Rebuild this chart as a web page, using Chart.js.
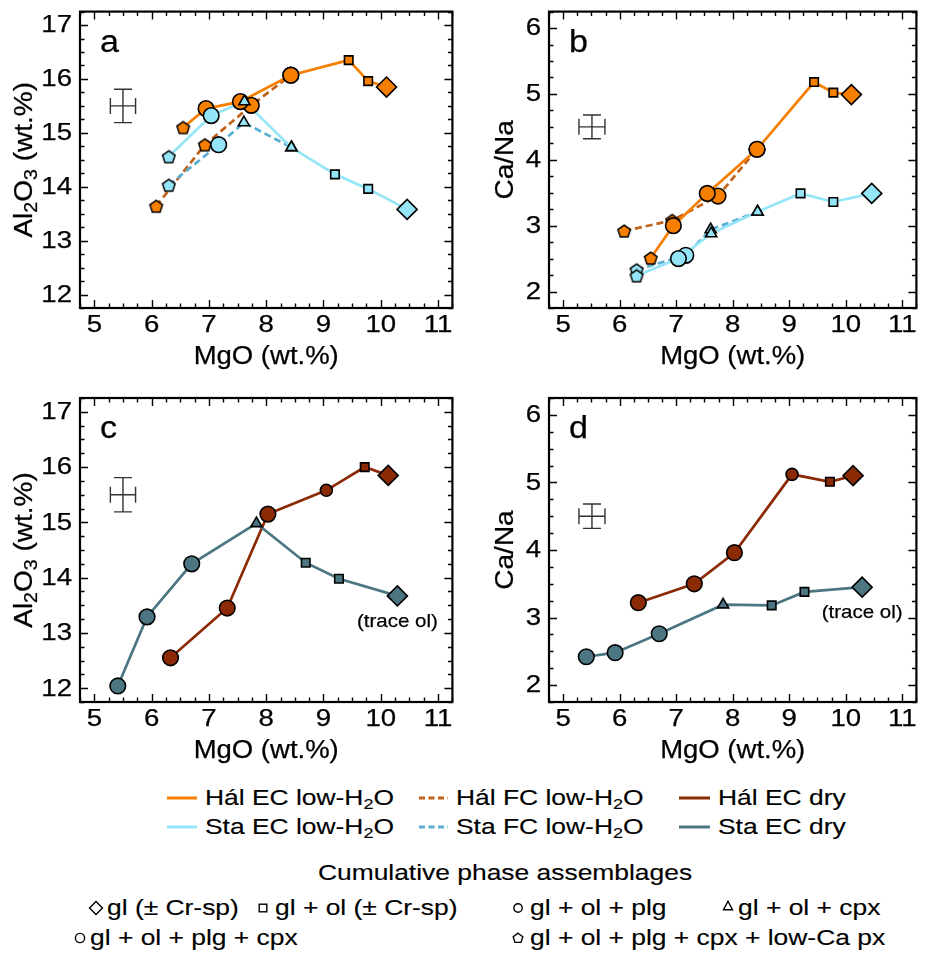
<!DOCTYPE html>
<html>
<head>
<meta charset="utf-8">
<script src="https://cdn.jsdelivr.net/npm/chart.js@4.4.1/dist/chart.umd.min.js"></script>
<style>
  html, body { margin: 0; padding: 0; background: #fff; }
  body { width: 928px; height: 953px; position: relative; overflow: hidden;
         font-family: "Liberation Sans", Arial, Helvetica, sans-serif; color: #000; }
  canvas.panel { position: absolute; }
  .lg { position: absolute; font-size: 22px; line-height: 20px; white-space: nowrap;
        transform-origin: 0 50%; transform: scaleX(1.2); -webkit-text-stroke: 0.15px #000; }
  .lg sub { font-size: 15px; vertical-align: -4px; line-height: 0; }
  .lg.centre { transform-origin: 50% 50%; transform: translateX(-50%) scaleX(1.2); }
  svg.sym { position: absolute; overflow: visible; }
</style>
</head>
<body>
<canvas id="pa" class="panel" width="464" height="375" style="left:0;top:0;width:464px;height:375px"></canvas>
<canvas id="pb" class="panel" width="464" height="375" style="left:464px;top:0;width:464px;height:375px"></canvas>
<canvas id="pc" class="panel" width="464" height="390" style="left:0;top:385px;width:464px;height:390px"></canvas>
<canvas id="pd" class="panel" width="464" height="390" style="left:464px;top:385px;width:464px;height:390px"></canvas>
<div id="legend"></div>

<script>
// ---------------- data ----------------
// axis ticks
const mgoTicks   = [5, 6, 7, 8, 9, 10, 11];
const alTicks    = [12, 13, 14, 15, 16, 17];
const caNaTicks  = [2, 3, 4, 5, 6];

// Hál, equilibrium crystallisation, low-H2O
const halEcLowMgO   = [6.55, 6.95, 7.55, 8.43, 9.44, 9.78, 10.10];
const halEcLowAl    = [15.10, 15.45, 15.58, 16.07, 16.35, 15.96, 15.85];
const halEcLowCaNa  = [2.51, 3.00, 3.49, 4.16, 5.18, 5.02, 4.99];
const halEcLowPhase = ['lowca', 'plgcpx', 'plgcpx', 'plgcpx', 'ol', 'ol', 'gl'];

// Hál, fractional crystallisation, low-H2O
const halFcLowMgO   = [6.08, 6.93, 7.74, 8.43];
const halFcLowAl    = [13.64, 14.78, 15.51, 16.07];
const halFcLowCaNa  = [2.92, 3.08, 3.45, 4.16];
const halFcLowPhase = ['lowca', 'lowca', 'plgcpx', 'plgcpx'];

// Sta, equilibrium crystallisation, low-H2O
const staEcLowMgO   = [6.30, 7.04, 7.62, 8.44, 9.20, 9.78, 10.46];
const staEcLowAl    = [14.56, 15.32, 15.58, 14.73, 14.23, 13.96, 13.58];
const staEcLowCaNa  = [2.24, 2.50, 2.88, 3.21, 3.49, 3.36, 3.49];
const staEcLowPhase = ['lowca', 'plgcpx', 'cpx', 'cpx', 'ol', 'ol', 'gl'];

// Sta, fractional crystallisation, low-H2O
const staFcLowMgO   = [6.30, 7.17, 7.61, 8.44];
const staFcLowAl    = [14.03, 14.78, 15.19, 14.73];
const staFcLowCaNa  = [2.33, 2.55, 2.94, 3.21];
const staFcLowPhase = ['lowca', 'plgcpx', 'cpx', 'cpx'];

// Hál, equilibrium crystallisation, dry
const halEcDryMgO   = [6.33, 7.32, 8.03, 9.05, 9.72, 10.13];
const halEcDryAl    = [12.55, 13.45, 15.15, 15.58, 16.00, 15.85];
const halEcDryCaNa  = [3.22, 3.50, 3.96, 5.12, 5.01, 5.10];
const halEcDryPhase = ['plgcpx', 'plgcpx', 'plgcpx', 'plg', 'ol', 'gl'];

// Sta, equilibrium crystallisation, dry
const staEcDryMgO   = [5.41, 5.92, 6.70, 7.83, 8.69, 9.27, 10.29];
const staEcDryAl    = [12.04, 13.29, 14.25, 14.98, 14.27, 13.98, 13.67];
const staEcDryCaNa  = [2.42, 2.48, 2.76, 3.19, 3.18, 3.38, 3.45];
const staEcDryPhase = ['plgcpx', 'plgcpx', 'plgcpx', 'cpx', 'ol', 'ol', 'gl'];

// analytical uncertainty (centre x, centre y, half-width x, half-width y)
const errAlCross   = [5.50, 15.50, 0.22, 0.31];
const errCaNaCross = [5.51, 4.50, 0.23, 0.18];

// ---------------- styling ----------------
const FONT = '"Liberation Sans", Arial, Helvetica, sans-serif';
const C = {
  halLow: '#f77f00', halFcLine: '#c0621b', halDry: '#8b2a05',
  staLow: '#95e5f8', staFcLine: '#5aaed2', staDry: '#4b7682'
};
const MARK = {
  gl:     { style: 'rectRot',  r: 10 },
  ol:     { style: 'rect',     r: 6.0 },
  plg:    { style: 'circle',   r: 6.0 },
  cpx:    { style: 'triangle', r: 6.4 },
  plgcpx: { style: 'circle',   r: 7.8 },
  lowca:  { style: 'pentagon', r: 6.6 }
};

const pentCache = {};
function pentagon(fill, r) {
  const key = fill + r;
  if (pentCache[key]) return pentCache[key];
  const s = Math.ceil(2 * r + 4);
  const c = document.createElement('canvas');
  c.width = s; c.height = s;
  const g = c.getContext('2d');
  g.beginPath();
  for (let i = 0; i < 5; i++) {
    const a = -Math.PI / 2 + i * 2 * Math.PI / 5;
    const px = s / 2 + r * Math.cos(a), py = s / 2 + 0.7 + r * Math.sin(a);
    if (i) g.lineTo(px, py); else g.moveTo(px, py);
  }
  g.closePath();
  g.fillStyle = fill; g.fill();
  g.lineWidth = 1.5; g.strokeStyle = '#000'; g.stroke();
  pentCache[key] = c;
  return c;
}

function pts(xs, ys) { return xs.map((x, i) => ({ x: x, y: ys[i] })); }

// one series = a line dataset underneath plus a marker dataset on top
function series(xs, ys, phases, fill, lineColor, dashed, order) {
  const data = pts(xs, ys);
  return [
    { data: data, showLine: true, borderColor: lineColor, borderWidth: 2.7,
      borderDash: dashed ? [7, 4] : [], pointRadius: 0, order: 100 + order, tension: 0 },
    { data: data, showLine: false, order: order,
      backgroundColor: fill, borderColor: '#000',
      pointBorderWidth: 1.6,
      pointRadius: ctx => MARK[phases[ctx.dataIndex]].r,
      pointStyle: ctx => {
        const m = MARK[phases[ctx.dataIndex]];
        return m.style === 'pentagon' ? pentagon(fill, m.r) : m.style;
      } }
  ];
}

function stretchText(ctx, text, x, y, size, align, base, sx) {
  ctx.save();
  ctx.font = size + 'px ' + FONT;
  ctx.fillStyle = '#000'; ctx.strokeStyle = '#000'; ctx.lineWidth = 0.25;
  ctx.textAlign = align; ctx.textBaseline = base;
  ctx.translate(x, y); ctx.scale(sx, 1);
  ctx.fillText(text, 0, 0);
  ctx.strokeText(text, 0, 0);
  ctx.restore();
}

// frame, inward ticks, labels, uncertainty cross and panel text
const decoPlugin = {
  id: 'deco',
  afterDatasetsDraw(chart, args, o) {
    const ctx = chart.ctx, a = chart.chartArea;
    const xs = chart.scales.x, ys = chart.scales.y;
    ctx.save();
    // uncertainty cross
    const e = o.err;
    const cx = xs.getPixelForValue(e[0]), cy = ys.getPixelForValue(e[1]);
    const x0 = xs.getPixelForValue(e[0] - e[2]), x1 = xs.getPixelForValue(e[0] + e[2]);
    const y0 = ys.getPixelForValue(e[1] + e[3]), y1 = ys.getPixelForValue(e[1] - e[3]);
    ctx.strokeStyle = '#333'; ctx.lineWidth = 1.4;
    ctx.beginPath();
    ctx.moveTo(x0, cy); ctx.lineTo(x1, cy);
    ctx.moveTo(cx, y0); ctx.lineTo(cx, y1);
    ctx.moveTo(x0, cy - 8); ctx.lineTo(x0, cy + 8);
    ctx.moveTo(x1, cy - 8); ctx.lineTo(x1, cy + 8);
    ctx.moveTo(cx - 9, y0); ctx.lineTo(cx + 9, y0);
    ctx.moveTo(cx - 9, y1); ctx.lineTo(cx + 9, y1);
    ctx.stroke();

    // frame
    ctx.strokeStyle = '#000'; ctx.lineWidth = 2.2;
    ctx.strokeRect(a.left, a.top, a.right - a.left, a.bottom - a.top);

    // inward ticks (majors from the scale, quarter-unit minors)
    ctx.lineWidth = 1.4;
    ctx.beginPath();
    const minor = 0.25;
    for (let v = Math.ceil(xs.min / minor) * minor; v <= xs.max + 1e-9; v += minor) {
      const major = Math.abs(v - Math.round(v)) < 1e-6;
      const L = major ? 8 : 4.5, px = Math.round(xs.getPixelForValue(v)) + 0.5;
      ctx.moveTo(px, a.bottom); ctx.lineTo(px, a.bottom - L);
      ctx.moveTo(px, a.top); ctx.lineTo(px, a.top + L);
    }
    for (let v = Math.ceil(ys.min / minor) * minor; v <= ys.max + 1e-9; v += minor) {
      const major = Math.abs(v - Math.round(v)) < 1e-6;
      const L = major ? 8 : 4.5, py = Math.round(ys.getPixelForValue(v)) + 0.5;
      ctx.moveTo(a.left, py); ctx.lineTo(a.left + L, py);
      ctx.moveTo(a.right, py); ctx.lineTo(a.right - L, py);
    }
    ctx.stroke();

    // tick labels
    xs.ticks.forEach(t => stretchText(ctx, String(t.value), xs.getPixelForValue(t.value),
      a.bottom + 18, 23, 'center', 'middle', 1.2));
    ys.ticks.forEach(t => stretchText(ctx, String(t.value), a.left - 8,
      ys.getPixelForValue(t.value) + 1, 23, 'right', 'middle', 1.2));

    // x title
    stretchText(ctx, 'MgO (wt.%)', (a.left + a.right) / 2, a.bottom + 49, 25, 'center', 'middle', 1.1);

    // y title (rotated, with subscripts)
    ctx.save();
    ctx.translate(o.yTitleX, (a.top + a.bottom) / 2);
    ctx.rotate(-Math.PI / 2);
    ctx.scale(1.12, 1);
    ctx.fillStyle = '#000'; ctx.strokeStyle = '#000'; ctx.lineWidth = 0.25;
    ctx.textBaseline = 'middle';
    const size = 25;
    let w = 0;
    o.yTitle.forEach(p => {
      ctx.font = (p.sub ? size * 0.7 : size) + 'px ' + FONT;
      w += ctx.measureText(p.t).width;
    });
    let x = -w / 2;
    ctx.textAlign = 'left';
    o.yTitle.forEach(p => {
      ctx.font = (p.sub ? size * 0.7 : size) + 'px ' + FONT;
      ctx.fillText(p.t, x, p.sub ? size * 0.3 : 0);
      ctx.strokeText(p.t, x, p.sub ? size * 0.3 : 0);
      x += ctx.measureText(p.t).width;
    });
    ctx.restore();

    // panel letter
    stretchText(ctx, o.letter, a.left + 20, a.top + 40, 31, 'left', 'alphabetic', 1.1);

    // note under the last dry-run point
    if (o.note) {
      const nx = xs.getPixelForValue(o.note.x), ny = ys.getPixelForValue(o.note.y) + 26;
      stretchText(ctx, o.note.text, nx, ny, 19, 'center', 'middle', 1.08);
    }
    ctx.restore();
  }
};

function makePanel(id, cfg) {
  return new Chart(document.getElementById(id), {
    type: 'scatter',
    data: { datasets: cfg.datasets },
    plugins: [decoPlugin],
    options: {
      responsive: false, animation: false, events: [],
      layout: { padding: cfg.pad },
      plugins: { legend: { display: false }, tooltip: { enabled: false }, deco: cfg.deco },
      scales: {
        x: { type: 'linear', min: 4.75, max: 11.25,
             afterBuildTicks: s => { s.ticks = mgoTicks.map(v => ({ value: v })); },
             afterFit: s => { s.height = cfg.xh; },
             ticks: { display: false }, grid: { display: false }, border: { display: false } },
        y: { type: 'linear', min: cfg.ymin, max: cfg.ymax,
             afterBuildTicks: s => { s.ticks = cfg.yTicks.map(v => ({ value: v })); },
             afterFit: s => { s.width = cfg.yw; },
             ticks: { display: false }, grid: { display: false }, border: { display: false } }
      }
    }
  });
}

const alTitle   = [{ t: 'Al' }, { t: '2', sub: true }, { t: 'O' }, { t: '3', sub: true }, { t: ' (wt.%)' }];
const caNaTitle = [{ t: 'Ca/Na' }];

// low-H2O runs
function lowSets(key) {
  const al = key === 'al';
  return [].concat(
    series(halFcLowMgO, al ? halFcLowAl : halFcLowCaNa, halFcLowPhase, C.halLow, C.halFcLine, true, 4),
    series(halEcLowMgO, al ? halEcLowAl : halEcLowCaNa, halEcLowPhase, C.halLow, C.halLow, false, 3),
    series(staFcLowMgO, al ? staFcLowAl : staFcLowCaNa, staFcLowPhase, C.staLow, C.staFcLine, true, 2),
    series(staEcLowMgO, al ? staEcLowAl : staEcLowCaNa, staEcLowPhase, C.staLow, C.staLow, false, 1)
  );
}
function drySets(key) {
  const al = key === 'al';
  return [].concat(
    series(halEcDryMgO, al ? halEcDryAl : halEcDryCaNa, halEcDryPhase, C.halDry, C.halDry, false, 2),
    series(staEcDryMgO, al ? staEcDryAl : staEcDryCaNa, staEcDryPhase, C.staDry, C.staDry, false, 1)
  );
}

makePanel('pa', { datasets: lowSets('al'), ymin: 11.75, ymax: 17.25, yTicks: alTicks,
  pad: { left: 0, right: 5, top: 5, bottom: 0 }, xh: 67, yw: 80,
  deco: { letter: 'a', yTitle: alTitle, yTitleX: 25, err: errAlCross } });
makePanel('pb', { datasets: lowSets('caNa'), ymin: 1.75, ymax: 6.25, yTicks: caNaTicks,
  pad: { left: 0, right: 2, top: 5, bottom: 0 }, xh: 67, yw: 85,
  deco: { letter: 'b', yTitle: caNaTitle, yTitleX: 42, err: errCaNaCross } });
makePanel('pc', { datasets: drySets('al'), ymin: 11.75, ymax: 17.25, yTicks: alTicks,
  pad: { left: 0, right: 5, top: 13, bottom: 0 }, xh: 73, yw: 80,
  deco: { letter: 'c', yTitle: alTitle, yTitleX: 25, err: errAlCross,
          note: { text: '(trace ol)', x: staEcDryMgO[6], y: staEcDryAl[6] } } });
makePanel('pd', { datasets: drySets('caNa'), ymin: 1.75, ymax: 6.25, yTicks: caNaTicks,
  pad: { left: 0, right: 2, top: 13, bottom: 0 }, xh: 73, yw: 85,
  deco: { letter: 'd', yTitle: caNaTitle, yTitleX: 42, err: errCaNaCross,
          note: { text: '(trace ol)', x: staEcDryMgO[6], y: staEcDryCaNa[6] } } });

// ---------------- legend ----------------
const legend = document.getElementById('legend');
const SVGNS = 'http://www.w3.org/2000/svg';
function svgAt(x, y, w, h, inner) {
  const s = document.createElementNS(SVGNS, 'svg');
  s.setAttribute('class', 'sym');
  s.setAttribute('width', w); s.setAttribute('height', h);
  s.style.left = (x - w / 2) + 'px'; s.style.top = (y - h / 2) + 'px';
  s.innerHTML = inner;
  legend.appendChild(s);
}
function text(x, y, html, cls) {
  const d = document.createElement('div');
  d.className = 'lg' + (cls ? ' ' + cls : '');
  d.style.left = x + 'px'; d.style.top = (y - 10) + 'px';
  d.innerHTML = html;
  legend.appendChild(d);
}
function lineKey(x0, x1, y, color, dashed, label) {
  svgAt((x0 + x1) / 2, y, x1 - x0, 6,
    '<line x1="0" y1="3" x2="' + (x1 - x0) + '" y2="3" stroke="' + color + '" stroke-width="3"' +
    (dashed ? ' stroke-dasharray="6 3.5"' : '') + '/>');
  text(x1 + 8, y, label);
}
const h2o = 'H<sub>2</sub>O';
lineKey(167, 197, 798, C.halLow, false, 'Hál EC low-' + h2o);
lineKey(419, 448, 798, C.halFcLine, true, 'Hál FC low-' + h2o);
lineKey(679, 710, 798, C.halDry, false, 'Hál EC dry');
lineKey(167, 197, 827, C.staLow, false, 'Sta EC low-' + h2o);
lineKey(419, 448, 827, C.staFcLine, true, 'Sta FC low-' + h2o);
lineKey(679, 710, 827, C.staDry, false, 'Sta EC dry');

text(505, 873, 'Cumulative phase assemblages', 'centre');

const stroke = 'fill="none" stroke="#000" stroke-width="1.4"';
svgAt(96, 908, 16, 16, '<path d="M8 1.5 L14.5 8 L8 14.5 L1.5 8 Z" ' + stroke + '/>');
text(107, 908, 'gl (± Cr-sp)');
svgAt(263, 908, 10, 10, '<rect x="1.2" y="1.2" width="7.6" height="7.6" ' + stroke + '/>');
text(275, 908, 'gl + ol (± Cr-sp)');
svgAt(518, 908, 12, 12, '<circle cx="6" cy="6" r="4.2" ' + stroke + '/>');
text(530, 908, 'gl + ol + plg');
svgAt(728, 906, 12, 12, '<path d="M6 1.2 L10.5 9.8 L1.5 9.8 Z" ' + stroke + '/>');
text(738, 908, 'gl + ol + cpx');
svgAt(80, 938, 12, 12, '<circle cx="6" cy="6" r="4.6" ' + stroke + '/>');
text(90, 938, 'gl + ol + plg + cpx');
svgAt(518, 938, 12, 12, '<path d="M6 1.2 L10.8 4.7 L9 10.4 L3 10.4 L1.2 4.7 Z" ' + stroke + '/>');
text(530, 938, 'gl + ol + plg + cpx + low-Ca px');
</script>
</body>
</html>
